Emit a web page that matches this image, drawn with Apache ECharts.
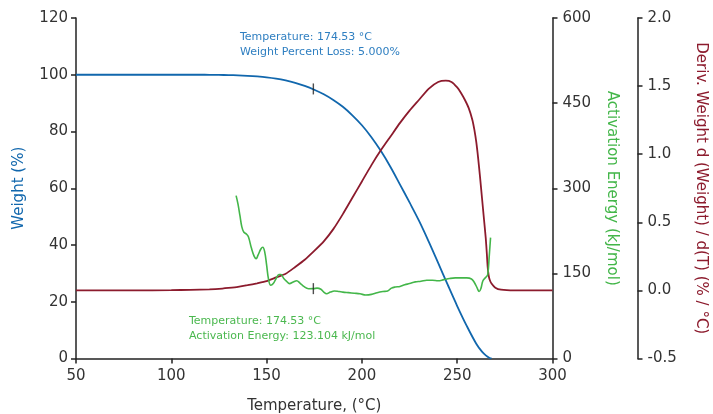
<!DOCTYPE html>
<html>
<head>
<meta charset="utf-8">
<script src="https://cdn.jsdelivr.net/npm/echarts@6/dist/echarts.min.js"></script>
<style>
  html, body { margin: 0; padding: 0; background: #fff; }
  #chart { width: 713px; height: 414px; }
</style>
</head>
<body>
<div id="chart"></div>
<script>
// TGA run: weight loss, derivative weight and activation energy vs temperature
const weightTemps = [50, 60, 70, 80, 90, 100, 110, 115, 120, 125, 130, 135, 140, 145, 150, 155, 160, 165, 170, 175, 180, 185, 190, 195, 200, 205, 210, 215, 220, 225, 230, 235, 240, 245, 250, 255, 260, 263, 265, 267, 268];
const weightValues = [100, 100, 100, 100, 100, 100, 100, 100, 99.98, 99.95, 99.88, 99.78, 99.62, 99.4, 99.1, 98.65, 98.0, 97.15, 96.05, 94.7, 93.1, 91.1, 88.7, 85.7, 82.2, 78.0, 73.1, 67.5, 61.3, 55.0, 48.5, 41.3, 33.7, 26.0, 18.5, 11.5, 5.2, 2.4, 1.1, 0.2, 0];

const derivTemps = [50, 80, 100, 110, 120, 125, 130, 135, 140, 145, 150, 155, 160, 165, 170, 175, 180, 185, 190, 195, 200, 205, 210, 215, 220, 225, 230, 235, 240, 244, 247, 250, 252, 254, 256, 258, 259, 260, 261, 262, 263, 264, 265, 265.5, 266, 266.5, 267, 268, 270, 273, 280, 290, 300];
const derivValues = [0, 0, 0.002, 0.004, 0.008, 0.011, 0.018, 0.026, 0.038, 0.052, 0.068, 0.095, 0.122, 0.172, 0.225, 0.29, 0.36, 0.45, 0.56, 0.68, 0.8, 0.92, 1.03, 1.13, 1.23, 1.32, 1.4, 1.48, 1.53, 1.54, 1.53, 1.49, 1.45, 1.4, 1.34, 1.25, 1.18, 1.09, 0.97, 0.83, 0.68, 0.53, 0.38, 0.28, 0.17, 0.11, 0.08, 0.05, 0.02, 0.005, 0, 0, 0];

const energyTemps = [134, 135, 136, 137, 138, 139.5, 140.5, 142, 143.5, 144.5, 145.5, 147, 148, 149, 150, 151, 152.2, 153.5, 155, 156.5, 157.5, 159, 160.5, 162, 164, 165.8, 167.5, 169.5, 172, 174.53, 176.5, 178.5, 180, 181.5, 183.5, 185.5, 188, 190, 193, 196, 199, 202, 205, 208, 211, 213.5, 215.5, 217.5, 220, 222.5, 225, 228, 231, 234, 237, 240, 243, 246, 249, 252, 255, 257.5, 259, 260.5, 261.5, 262.5, 263.5, 265, 266, 266.8, 267.5];
const energyValues = [287, 272, 252, 232, 223, 219, 214, 195, 180, 176, 182, 193, 196, 188, 165, 140, 129, 132, 141, 148, 148, 141, 136, 132, 135, 137, 133, 127, 123, 123.104, 124, 122, 117, 114, 117, 119, 118, 117, 116, 115, 114, 112, 113, 116, 118, 119, 124, 126, 127, 130, 132, 135, 136, 138, 138, 137, 139, 141, 142, 142, 142, 140, 134, 124, 118, 124, 137, 143, 148, 180, 213];

// Cursor readouts at the 5 % weight-loss temperature
const cursorTemp = 174.53;
const cursorWeight = 95.0;
const cursorEnergy = 123.104;

const weightTicks = { min: 0, max: 120, interval: 20 };
const energyTicks = { min: 0, max: 600, interval: 150 };
const derivTicks = { min: -0.5, max: 2.0, interval: 0.5 };
const tempTicks = { min: 50, max: 300, interval: 50 };

const zip = (xs, ys) => xs.map((x, i) => [x, ys[i]]);

const FONT = '"DejaVu Sans", sans-serif';
const AXIS_COLOR = '#222';
const BLUE = '#1167ad';
const RED = '#8c1b2d';
const GREEN = '#43b649';

const axisCommon = {
  axisLine: { show: true, onZero: false, lineStyle: { color: AXIS_COLOR, width: 1.5 } },
  axisTick: { show: true, inside: false, length: 5, lineStyle: { color: AXIS_COLOR, width: 1.5 } },
  splitLine: { show: false },
  axisLabel: { color: '#333', fontFamily: FONT, fontSize: 15 }
};

const chart = echarts.init(document.getElementById('chart'), null, { renderer: 'canvas' });

chart.setOption({
  animation: false,
  backgroundColor: '#fff',
  grid: { left: 76, right: 160.5, top: 18, bottom: 55.5, outerBoundsMode: 'none' },
  xAxis: {
    type: 'value',
    ...tempTicks,
    ...axisCommon,
    axisLabel: { ...axisCommon.axisLabel, margin: 10 },
    name: 'Temperature, (°C)',
    nameLocation: 'middle',
    nameGap: 40,
    nameTextStyle: { color: '#333', fontFamily: FONT, fontSize: 15 }
  },
  yAxis: [
    {
      type: 'value',
      position: 'left',
      ...weightTicks,
      ...axisCommon,
      axisLabel: { ...axisCommon.axisLabel, margin: 8 },
      name: 'Weight (%)',
      nameLocation: 'middle',
      nameRotate: 90,
      nameGap: 49,
      nameTextStyle: { color: BLUE, fontFamily: FONT, fontSize: 15 }
    },
    {
      type: 'value',
      position: 'right',
      offset: 0,
      ...energyTicks,
      ...axisCommon,
      axisLabel: { ...axisCommon.axisLabel, margin: 10 },
      name: 'Activation Energy (kJ/mol)',
      nameLocation: 'middle',
      nameRotate: -90,
      nameGap: 52,
      nameTextStyle: { color: GREEN, fontFamily: FONT, fontSize: 15 }
    },
    {
      type: 'value',
      position: 'right',
      offset: 85,
      ...derivTicks,
      ...axisCommon,
      axisLabel: { ...axisCommon.axisLabel, margin: 10, formatter: v => v.toFixed(1) },
      name: 'Deriv. Weight d (Weight) / d(T) (% / °C)',
      nameLocation: 'middle',
      nameRotate: -90,
      nameGap: 56,
      nameTextStyle: { color: RED, fontFamily: FONT, fontSize: 15 }
    }
  ],
  series: [
    {
      name: 'Weight',
      type: 'line',
      yAxisIndex: 0,
      data: zip(weightTemps, weightValues),
      showSymbol: false,
      smooth: 0.35,
      lineStyle: { color: BLUE, width: 1.8 },
      z: 3
    },
    {
      name: 'Deriv. Weight',
      type: 'line',
      yAxisIndex: 2,
      data: zip(derivTemps, derivValues),
      showSymbol: false,
      smooth: 0.2,
      lineStyle: { color: RED, width: 1.8 },
      z: 3
    },
    {
      name: 'Activation Energy',
      type: 'line',
      yAxisIndex: 1,
      data: zip(energyTemps, energyValues),
      showSymbol: false,
      smooth: 0.4,
      lineStyle: { color: GREEN, width: 1.6 },
      z: 3
    },
    {
      name: 'Weight cursor',
      type: 'scatter',
      yAxisIndex: 0,
      data: [[cursorTemp, cursorWeight]],
      symbol: 'rect',
      symbolSize: [1.4, 11],
      itemStyle: { color: '#222' },
      z: 5
    },
    {
      name: 'Energy cursor',
      type: 'scatter',
      yAxisIndex: 1,
      data: [[cursorTemp, cursorEnergy]],
      symbol: 'rect',
      symbolSize: [1.4, 11],
      itemStyle: { color: '#222' },
      z: 5
    }
  ],
  graphic: [
    {
      type: 'text',
      left: 240,
      top: 30,
      style: {
        text: 'Temperature: ' + cursorTemp.toFixed(2) + ' °C\nWeight Percent Loss: ' + (100 - cursorWeight).toFixed(3) + '%',
        fill: '#2f7fc1',
        font: '11px ' + FONT,
        lineHeight: 14.5
      }
    },
    {
      type: 'text',
      left: 189,
      top: 314,
      style: {
        text: 'Temperature: ' + cursorTemp.toFixed(2) + ' °C\nActivation Energy: ' + cursorEnergy.toFixed(3) + ' kJ/mol',
        fill: '#4bb84f',
        font: '11px ' + FONT,
        lineHeight: 14.5
      }
    }
  ]
});
</script>
</body>
</html>
